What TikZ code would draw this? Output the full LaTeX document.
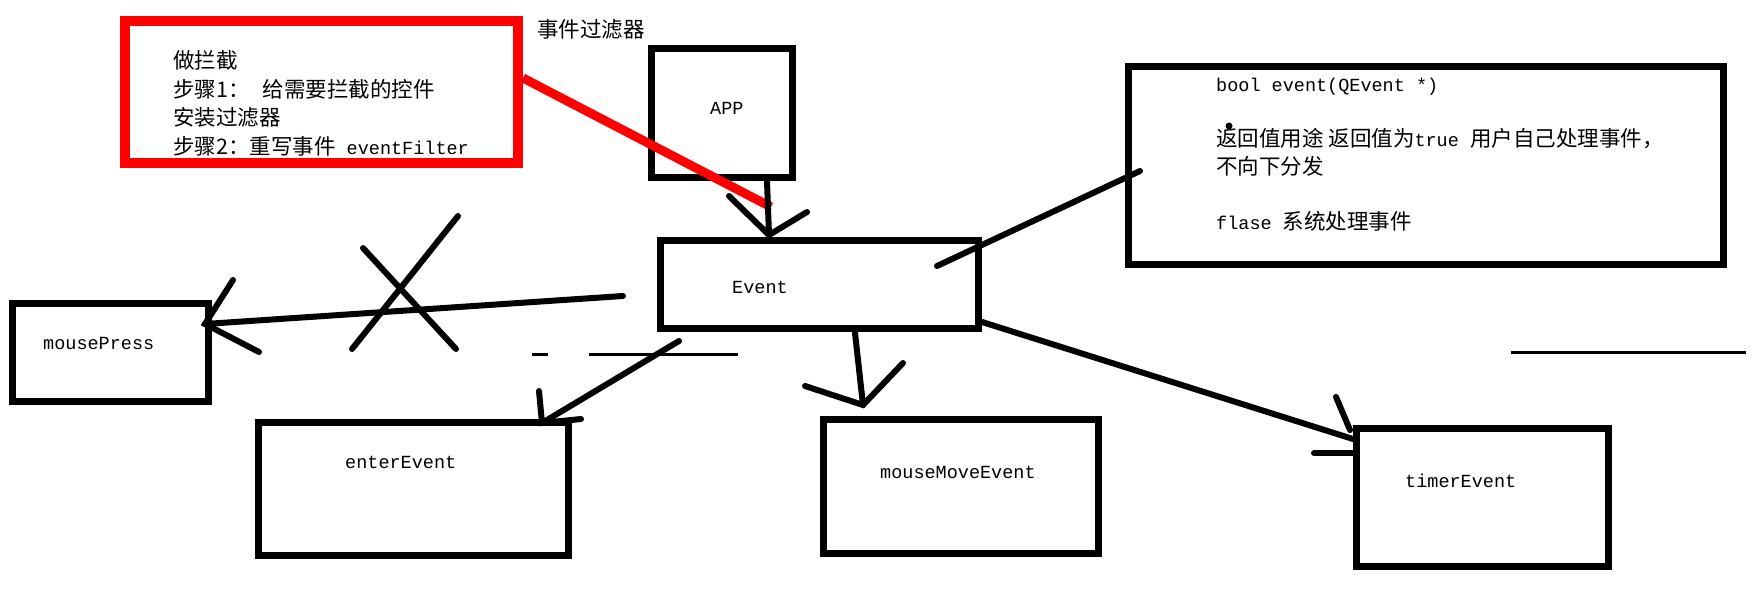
\documentclass[tikz,border=0pt]{standalone}
\usepackage{fontspec}
\setmonofont{Liberation Mono}
\newfontfamily\cjk{Noto Sans CJK SC}
\newcommand\zhbig{\fontsize{21.5}{28}\selectfont\cjk}
\newcommand\zhnote{\fontsize{21.5}{28}\selectfont\cjk}
\begin{document}
\begin{tikzpicture}[x=1pt,y=-1pt,
  bx/.style={draw=black,line width=7pt,inner sep=0pt,outer sep=0pt},
  redbx/.style={draw=red,line width=10pt,inner sep=0pt,outer sep=0pt},
  txt/.style={anchor=base west,inner sep=0pt,font=\fontsize{18.5}{28}\selectfont\ttfamily},
  redtxt/.style={anchor=base west,inner sep=0pt,font=\fontsize{18.5}{28}\selectfont\ttfamily},
  notetxt/.style={anchor=base west,inner sep=0pt,font=\fontsize{18.5}{28}\selectfont\ttfamily},
  stroke/.style={line width=6pt,line cap=round},
  thin/.style={line width=3pt},
]
\useasboundingbox[fill=white] (0,0) rectangle (1753,593);
% boxes
\node[redbx,minimum width=393pt,minimum height=142pt] (red) at (321.5,92) {};
\node[bx,minimum width=141pt,minimum height=129pt] (app) at (722,113) {};
\node[bx,minimum width=318pt,minimum height=88pt] (event) at (819.5,284.5) {};
\node[bx,minimum width=595pt,minimum height=198pt] (note) at (1426,165.5) {};
\node[bx,minimum width=196pt,minimum height=98pt] (press) at (110.5,352.5) {};
\node[bx,minimum width=310pt,minimum height=133pt] (enter) at (413.5,489) {};
\node[bx,minimum width=275pt,minimum height=134pt] (move) at (961,486.5) {};
\node[bx,minimum width=252pt,minimum height=138pt] (timer) at (1482.5,497.5) {};
% texts
\node[redtxt] (tred1) at (173,69) {\zhbig 做拦截};
\node[redtxt] (tred2) at (173,98) {{\zhbig 步骤1：}\hspace{13pt}{\zhbig 给需要拦截的控件}};
\node[redtxt] (tred3) at (173,126) {\zhbig 安装过滤器};
\node[redtxt] (tred4) at (173,155) {{\zhbig 步骤2：重写事件} eventFilter};
\node[redtxt] (tfilter) at (537,38) {\zhbig 事件过滤器};
\node[txt] (tapp) at (710,115) {APP};
\node[txt] (tevent) at (732,294) {Event};
\node[notetxt] (tnote1) at (1216,92) {bool event(QEvent *)};
\node[notetxt] (tnote2) at (1216,147) {{\zhnote 返回值用途 返回值为}true {\zhnote 用户自己处理事件，}};
\node[notetxt] (tnote3) at (1216,175) {\zhnote 不向下分发};
\node[notetxt] (tnote4) at (1216,230) {flase {\zhnote 系统处理事件}};
\node[txt] (tpress) at (43,350) {mousePress};
\node[txt] (tenter) at (345,468) {enterEvent};
\node[txt] (tmove) at (880,478) {mouseMoveEvent};
\node[txt] (ttimer) at (1405,487) {timerEvent};
\fill (1229,126) circle (3.5pt);
% coordinates for connectors
\coordinate (c1) at (767,181);
\coordinate (c1t) at (769,235);
\coordinate (r1) at (523,78);
\coordinate (r2) at (771,207);
\coordinate (n1) at (937,266);
\coordinate (n2) at (1140,171);
\coordinate (p1) at (623,296);
\coordinate (p2) at (205,324);
\coordinate (e1) at (679,341);
\coordinate (e2) at (542,423);
\coordinate (m1) at (855,333);
\coordinate (m2) at (863,405);
\coordinate (t1) at (982,322);
\coordinate (t2) at (1353,439);
% red connector
\draw[red,line width=9pt] (r1) -- (r2);
% APP -> Event
\draw[stroke] (c1) -- (c1t);
\draw[stroke] (729,196) -- (c1t) -- (807,212);
% Event -> note
\draw[stroke] (n1) -- (n2);
% Event -> mousePress (crossed)
\draw[stroke] (p1) -- (p2);
\draw[stroke] (233,280) -- (p2) -- (259,352);
\draw[stroke] (458,216) -- (352,349);
\draw[stroke] (363,248) -- (456,349);
% Event -> enterEvent
\draw[stroke] (e1) -- (e2);
\draw[stroke] (539,391) -- (e2) -- (581,419);
% Event -> mouseMoveEvent
\draw[stroke] (m1) -- (m2);
\draw[stroke] (805,386) -- (m2) -- (903,363);
% Event -> timerEvent
\draw[stroke] (t1) -- (t2);
\draw[stroke] (1336,397) -- (1350,430);
\draw[stroke] (1314,453) -- (1353,453);
% stray lines
\draw[thin] (532,355) -- (548,355);
\draw[thin] (589,355) -- (738,355);
\draw[thin] (1511,353) -- (1746,353);
\end{tikzpicture}
\end{document}
